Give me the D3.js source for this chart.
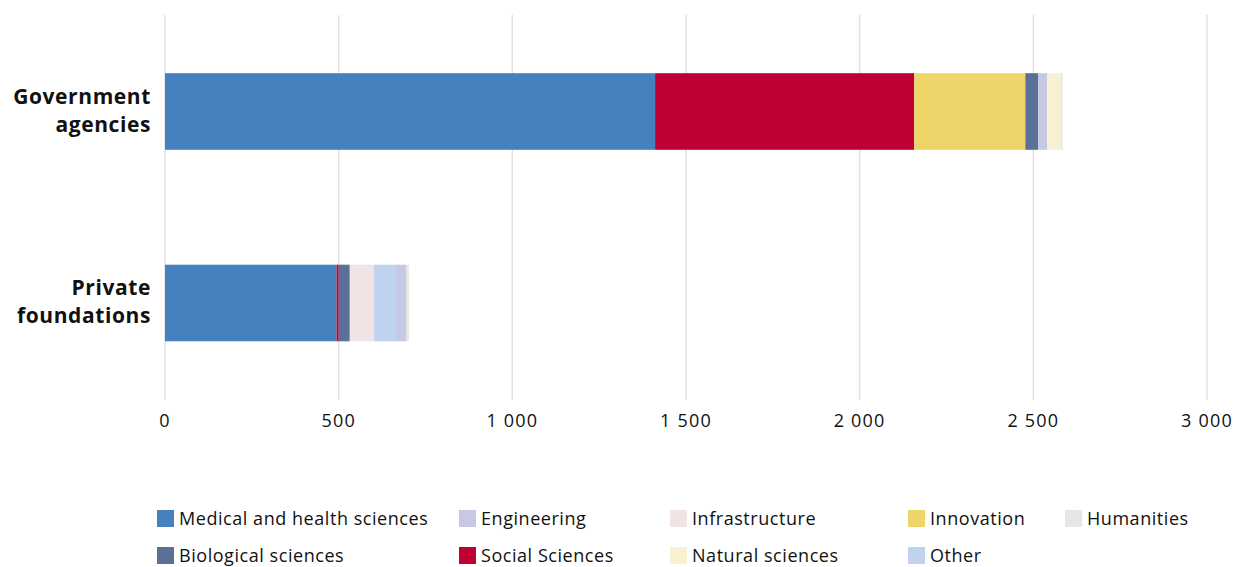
<!DOCTYPE html>
<html>
<head>
<meta charset="utf-8">
<script src="https://d3js.org/d3.v7.min.js"></script>
<style>
  body { margin: 0; background: #ffffff; }
  text { font-family: "Open Sans", sans-serif; fill: #111; }
</style>
</head>
<body>
<div id="chart"></div>
<script>
  // data
  var funders = ["Government agencies", "Private foundations"];
  var fields = ["Medical and health sciences", "Social Sciences", "Innovation", "Biological sciences",
                "Infrastructure", "Other", "Engineering", "Natural sciences", "Humanities"];
  var government = [1411, 746, 320, 37, 0, 0, 26, 39, 5];
  var privateF   = [494, 6, 0, 32, 70, 63, 29, 0, 8];
  var colors = ["#4581bf", "#be0032", "#edd56a", "#5a7099", "#f2e3e5", "#c0d3ee", "#c6c8e4", "#f8f0cf", "#e6e6e6"];
  var xTicks = [0, 500, 1000, 1500, 2000, 2500, 3000];

  // legend order as in the picture
  var legendRows = [
    ["Medical and health sciences", "Engineering", "Infrastructure", "Innovation", "Humanities"],
    ["Biological sciences", "Social Sciences", "Natural sciences", "Other"]
  ];
  var legendCols = [157, 459, 670, 908, 1065];

  var width = 1233, height = 567;
  var svg = d3.select("#chart").append("svg").attr("width", width).attr("height", height);

  var x = d3.scaleLinear().domain([0, 3000]).range([165, 1207]);
  var y = d3.scaleBand().domain(funders).range([15.75, 398.75]).paddingInner(0.6).paddingOuter(0.3);
  var color = d3.scaleOrdinal().domain(fields).range(colors);

  // gridlines
  svg.append("g").selectAll("line").data(xTicks).enter().append("line")
    .attr("x1", function(d) { return x(d); }).attr("x2", function(d) { return x(d); })
    .attr("y1", 15).attr("y2", 400)
    .attr("stroke", "#e1e1e1").attr("stroke-width", 1.5);

  // tick labels
  svg.append("g").selectAll("text").data(xTicks).enter().append("text")
    .attr("x", function(d) { return x(d); }).attr("y", 427)
    .attr("text-anchor", "middle").style("font-size", "18px").style("letter-spacing", "1.2px")
    .style("white-space", "pre")
    .text(function(d) { return d >= 1000 ? d3.format(",")(d).replace(",", "\u00a0") : d; });

  // stacked bars
  var rows = funders.map(function(f, i) {
    var vals = i === 0 ? government : privateF;
    var o = { funder: f };
    fields.forEach(function(k, j) { o[k] = vals[j]; });
    return o;
  });
  var series = d3.stack().keys(fields)(rows);

  svg.append("g").selectAll("g").data(series).enter().append("g")
    .attr("fill", function(d) { return color(d.key); })
    .selectAll("rect").data(function(d) { return d; }).enter().append("rect")
    .attr("x", function(d) { return x(d[0]); })
    .attr("width", function(d) { return x(d[1]) - x(d[0]); })
    .attr("y", function(d) { return y(d.data.funder); })
    .attr("height", y.bandwidth());

  // category labels, two lines each
  var labelLines = { "Government agencies": ["Government", "agencies"], "Private foundations": ["Private", "foundations"] };
  svg.append("g").selectAll("text").data(funders).enter().append("text")
    .attr("x", 151).attr("text-anchor", "end")
    .attr("y", function(d) { return y(d) + y.bandwidth() / 2 - 8; })
    .style("font-size", "21px").style("font-weight", "bold").style("letter-spacing", "0.6px")
    .each(function(d) {
      var t = d3.select(this);
      labelLines[d].forEach(function(l, i) {
        t.append("tspan").attr("x", 151).attr("dy", i === 0 ? 0 : 28).text(l);
      });
    });

  // legend
  var legend = svg.append("g");
  legendRows.forEach(function(row, r) {
    row.forEach(function(name, c) {
      var g = legend.append("g").attr("transform", "translate(" + legendCols[c] + "," + (510 + r * 37) + ")");
      g.append("rect").attr("width", 17).attr("height", 17).attr("fill", color(name));
      g.append("text").attr("x", 22).attr("y", 15).style("font-size", "18px").style("letter-spacing", "0.55px")
        .text(name);
    });
  });
</script>
</body>
</html>
